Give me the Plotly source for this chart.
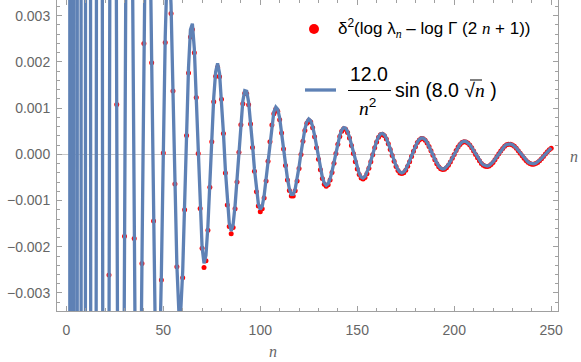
import plotly.graph_objects as go

# values in units of 1e-3
MILLI = 1e-3

# fitted curve 12.0/n^2 sin(8.0 sqrt n), sampled at n = 1..250
curve_n = list(range(1, 251))
curve_milli = [
    11873, -2850, 1281, -216, -393.7, 226.4, 180.0, -111.6, -134.2, 19.77,
    97.7, 44.35, -38.4, -61.0, -22.3, 25.85, 41.52, 21.44, -10.26, -28.15,
    -23.45, -4.336, 14.04, 20.77, 14.31, 0.861, -10.96, -15.26, -11.19, -2.183,
    6.631, 11.20, 10.13, 4.759, -1.992, -7.113, -8.761, -6.761, -2.373, 2.437,
    5.847, 6.802, 5.270, 2.073, -1.515, -4.266, -5.385, -4.695, -2.607, 0.095,
    2.539, 4.032, 4.240, 3.230, 1.400, -0.671, -2.403, -3.369, -3.387, -2.536,
    -1.105, 0.498, 1.868, 2.695, 2.827, 2.289, 1.260, 0.010, -1.163, -2.006,
    -2.359, -2.184, -1.556, -0.640, 0.355, 1.220, 1.790, 1.971, 1.756, 1.212,
    0.464, -0.331, -1.022, -1.487, -1.657, -1.518, -1.114, -0.534, 0.111, 0.706,
    1.150, 1.379, 1.365, 1.126, 0.713, 0.203, -0.317, -0.762, -1.068, -1.193,
    -1.128, -0.893, -0.533, -0.108, 0.316, 0.675, 0.920, 1.022, 0.973, 0.788,
    0.499, 0.151, -0.203, -0.517, -0.747, -0.868, -0.868, -0.753, -0.543, -0.269,
    0.029, 0.313, 0.546, 0.702, 0.765, 0.730, 0.606, 0.412, 0.174, -0.076,
    -0.309, -0.497, -0.620, -0.667, -0.634, -0.529, -0.366, -0.168, 0.044, 0.244,
    0.410, 0.526, 0.580, 0.569, 0.497, 0.373, 0.213, 0.036, -0.141, -0.297,
    -0.418, -0.492, -0.513, -0.481, -0.401, -0.283, -0.140, 0.013, 0.161, 0.288,
    0.384, 0.440, 0.451, 0.419, 0.348, 0.246, 0.123, -0.008, -0.135, -0.246,
    -0.332, -0.385, -0.401, -0.381, -0.326, -0.244, -0.143, -0.031, 0.081, 0.183,
    0.267, 0.325, 0.354, 0.351, 0.319, 0.261, 0.182, 0.089, -0.009, -0.104,
    -0.188, -0.254, -0.298, -0.317, -0.310, -0.278, -0.224, -0.154, -0.073, 0.012,
    0.094, 0.167, 0.225, 0.265, 0.283, 0.279, 0.254, 0.211, 0.152, 0.083,
    0.009, -0.064, -0.131, -0.186, -0.227, -0.250, -0.255, -0.241, -0.209, -0.164,
    -0.107, -0.044, 0.021, 0.083, 0.138, 0.182, 0.213, 0.228, 0.227, 0.211,
    0.181, 0.138, 0.088, 0.032, -0.025, -0.079, -0.127, -0.165, -0.192, -0.206,
    -0.206, -0.192, -0.166, -0.130, -0.086, -0.037, 0.013, 0.062, 0.105, 0.141,
]

# data points delta^2(log lambda_n - log Gamma(2n+1)), n = 20..250
dots_n = list(range(20, 251))
dots_milli = [
    -29.0, -24.0, -2.61, 13.1, 20.0, 13.5, 1.08, -11.6, -15.9, -11.8,
    -1.77, 6.1, 10.7, 9.7, 4.3, -1.82, -7.5, -9.1, -7.1, -2.36,
    2.40, 5.55, 6.5, 5.0, 1.98, -1.44, -4.5, -5.6, -4.9, -2.72,
    0.03, 2.42, 3.85, 4.07, 3.05, 1.37, -0.64, -2.43, -3.52, -3.53,
    -2.67, -1.20, 0.41, 1.76, 2.54, 2.70, 2.20, 1.23, 0.02, -1.17,
    -2.03, -2.45, -2.30, -1.64, -0.71, 0.27, 1.14, 1.69, 1.885, 1.68,
    1.19, 0.45, -0.403, -1.094, -1.559, -1.720, -1.581, -1.177, -0.597, 0.048,
    0.643, 1.095, 1.324, 1.310, 1.071, 0.658, 0.148, -0.366, -0.811, -1.117,
    -1.242, -1.177, -0.942, -0.575, -0.150, 0.274, 0.633, 0.878, 0.980, 0.931,
    0.746, 0.463, 0.115, -0.239, -0.553, -0.783, -0.904, -0.904, -0.789, -0.579,
    -0.305, -0.001, 0.283, 0.516, 0.672, 0.735, 0.700, 0.576, 0.382, 0.144,
    -0.106, -0.334, -0.522, -0.645, -0.692, -0.659, -0.554, -0.391, -0.193, 0.019,
    0.219, 0.385, 0.501, 0.555, 0.544, 0.472, 0.353, 0.193, 0.016, -0.161,
    -0.317, -0.438, -0.512, -0.533, -0.501, -0.421, -0.303, -0.160, -0.007, 0.141,
    0.268, 0.368, 0.424, 0.435, 0.403, 0.332, 0.230, 0.107, -0.024, -0.151,
    -0.262, -0.348, -0.401, -0.417, -0.397, -0.342, -0.260, -0.159, -0.047, 0.065,
    0.167, 0.254, 0.312, 0.341, 0.338, 0.306, 0.248, 0.169, 0.076, -0.022,
    -0.117, -0.201, -0.267, -0.311, -0.330, -0.323, -0.291, -0.237, -0.167, -0.086,
    -0.001, 0.084, 0.157, 0.215, 0.255, 0.273, 0.269, 0.244, 0.201, 0.142,
    0.073, -0.001, -0.074, -0.141, -0.196, -0.237, -0.260, -0.265, -0.251, -0.219,
    -0.174, -0.117, -0.054, 0.011, 0.073, 0.128, 0.174, 0.205, 0.220, 0.219,
    0.203, 0.173, 0.130, 0.080, 0.024, -0.033, -0.087, -0.135, -0.173, -0.200,
    -0.214, -0.214, -0.200, -0.174, -0.138, -0.094, -0.045, 0.005, 0.054, 0.097,
    0.133,
]

BLUE = "#5e81b5"
RED = "#ff0000"
FRAME = "#a0a0a0"
LABEL = "#666666"

W, H = 581, 362
L, R, T, B = 57, 23, 0, 51


def xp(px):
    return (px - L) / (W - L - R)


def yp(py):
    return (H - B - py) / (H - B - T)


fig = go.Figure()
fig.add_trace(go.Scatter(
    x=dots_n, y=[v * MILLI for v in dots_milli],
    mode="markers", marker=dict(color=RED, size=5, line=dict(width=0)),
    showlegend=False, hoverinfo="skip",
))
fig.add_trace(go.Scatter(
    x=curve_n, y=[v * MILLI for v in curve_milli],
    mode="lines", line=dict(color=BLUE, width=3.3),
    showlegend=False, hoverinfo="skip",
))

axis_common = dict(
    showline=True, linecolor=FRAME, linewidth=1, mirror="allticks",
    ticks="inside", ticklen=5, tickcolor=FRAME, tickwidth=1,
    showgrid=False, automargin=False,
    tickfont=dict(family="Liberation Sans", size=14, color=LABEL),
)

fig.update_layout(
    width=W, height=H,
    margin=dict(l=L, r=R, t=T, b=B, autoexpand=False),
    paper_bgcolor="white", plot_bgcolor="white",
    xaxis=dict(
        **axis_common, range=[-4.8, 253.5], tick0=0, dtick=50, zeroline=False,
        ticklabelstandoff=6,
        minor=dict(ticks="inside", ticklen=3, tickcolor=FRAME, dtick=10, showgrid=False),
    ),
    yaxis=dict(
        **axis_common, range=[-0.00339, 0.00334], tick0=0, dtick=0.001,
        tickformat=".3f", zeroline=True, zerolinecolor="#c8c8c8", zerolinewidth=1.2,
        ticklabelstandoff=3,
        minor=dict(ticks="inside", ticklen=3, tickcolor=FRAME, dtick=0.0002, showgrid=False),
    ),
)

serif_n = "<span style='font-family:Liberation Serif'><i>n</i></span>"
txt = dict(family="Liberation Sans", size=17, color="black")
big = dict(family="Liberation Sans", size=19.5, color="black")

# legend
fig.add_shape(type="circle", xref="paper", yref="paper", xsizemode="pixel", ysizemode="pixel",
              xanchor=xp(314), yanchor=yp(29), x0=-5, x1=5, y0=-5, y1=5,
              fillcolor=RED, line=dict(width=0))
fig.add_annotation(xref="paper", yref="paper", x=xp(336), y=yp(29), xanchor="left", yanchor="middle",
                   showarrow=False, font=txt,
                   text="δ<sup>2</sup>(log λ<sub>" + serif_n + "</sub> – log Γ (2 " + serif_n + " + 1))")
fig.add_shape(type="line", xref="paper", yref="paper", x0=xp(305), x1=xp(336), y0=yp(90), y1=yp(90),
              line=dict(color=BLUE, width=3.3))
fig.add_shape(type="line", xref="paper", yref="paper", x0=xp(348), x1=xp(391), y0=yp(90.5), y1=yp(90.5),
              line=dict(color="black", width=1))
fig.add_annotation(xref="paper", yref="paper", x=xp(369), y=yp(74), xanchor="center", yanchor="middle",
                   showarrow=False, font=big, text="12.0")
fig.add_annotation(xref="paper", yref="paper", x=xp(367), y=yp(107), xanchor="center", yanchor="middle",
                   showarrow=False, font=big, text=serif_n + "<sup>2</sup>")
fig.add_annotation(xref="paper", yref="paper", x=xp(393), y=yp(90), xanchor="left", yanchor="middle",
                   showarrow=False, font=big, text="sin (8.0 √" + serif_n + " )")
# radical bar over n
fig.add_shape(type="line", xref="paper", yref="paper", x0=xp(470), x1=xp(482), y0=yp(80), y1=yp(80),
              line=dict(color="black", width=1))

# axis labels
lab = dict(family="Liberation Serif", size=16, color=LABEL)
fig.add_annotation(xref="paper", yref="paper", x=xp(273), y=yp(351), xanchor="center", yanchor="middle",
                   showarrow=False, font=lab, text="<i>n</i>")
fig.add_annotation(xref="paper", yref="paper", x=xp(574), y=yp(156), xanchor="center", yanchor="middle",
                   showarrow=False, font=lab, text="<i>n</i>")

# the page's default body margin would shift the figure by 8px
fig.write_html("out.html", config={"displayModeBar": False},
               post_script="document.body.style.margin='0';")
